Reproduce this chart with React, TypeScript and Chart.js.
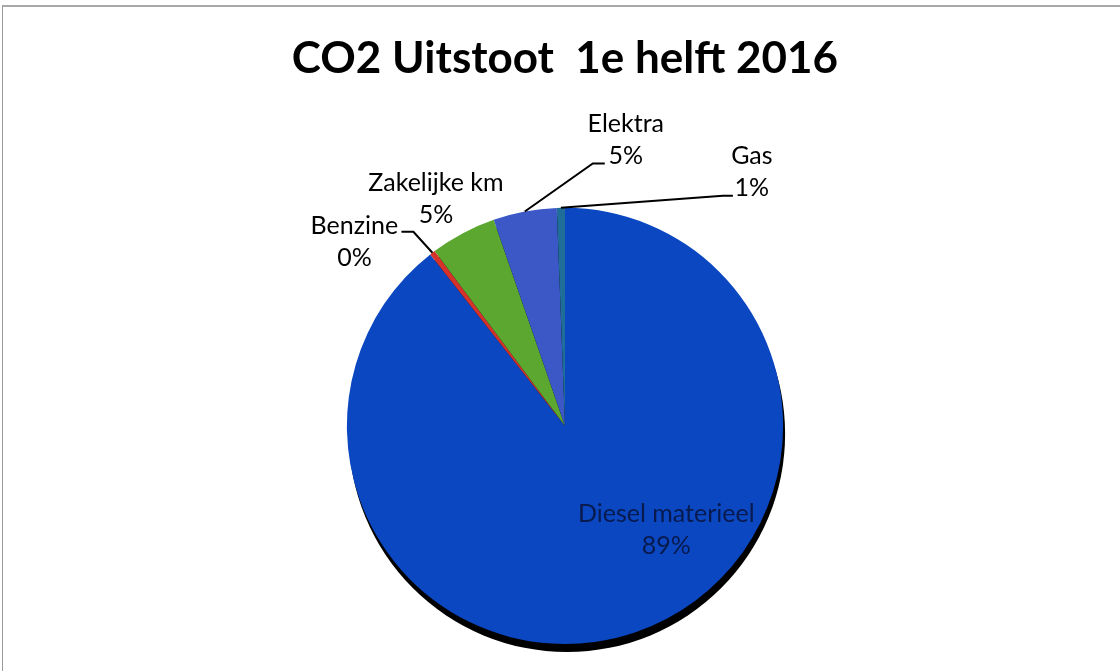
import React, { useEffect, useRef } from "react";
import { Chart, registerables } from "chart.js";

Chart.register(...registerables);

const TITLE = "CO2 Uitstoot  1e helft 2016";
const CATEGORIES = ["Diesel materieel", "Benzine", "Zakelijke km", "Elektra", "Gas"];
const VALUES = [89.4, 0.4, 4.9, 4.7, 0.6];
const COLORS = ["#0b47c0", "#d6322c", "#5ba72f", "#3c58c6", "#1f6e99"];

// label placement relative to the slice's rim anchor (mid-angle on the outer radius)
const LABEL_LAYOUT = [
  { dx: 30, dy: -118, color: "#081a4e", leader: null },
  { dx: -78, dy: -27, color: "#000", leader: [[-19, -21], [-31, -21]] },
  { dx: -27, dy: -50, color: "#000", leader: null },
  { dx: 101, dy: -88, color: "#000", leader: [[68, -48], [80, -48]] },
  { dx: 191, dy: -52, color: "#000", leader: [[162, -12], [172, -12]] },
];

const FONT = "Lato, 'Open Sans', sans-serif";

const shadowPlugin = {
  id: "pieShadow",
  beforeDatasetsDraw(chart: any) {
    const arc = chart.getDatasetMeta(0).data[0];
    if (!arc) return;
    const { x, y, outerRadius } = arc.getProps(["x", "y", "outerRadius"], true);
    const ctx = chart.ctx;
    ctx.save();
    ctx.fillStyle = "#000";
    ctx.beginPath();
    ctx.arc(x + 2, y + 8, outerRadius, 0, Math.PI * 2);
    ctx.fill();
    ctx.restore();
  },
};

const labelPlugin = {
  id: "sliceLabels",
  afterDatasetsDraw(chart: any) {
    const ctx = chart.ctx;
    const meta = chart.getDatasetMeta(0);
    const vals = chart.data.datasets[0].data as number[];
    const total = vals.reduce((a, b) => a + b, 0);
    meta.data.forEach((arc: any, i: number) => {
      const { x, y, startAngle, endAngle, outerRadius } = arc.getProps(
        ["x", "y", "startAngle", "endAngle", "outerRadius"],
        true
      );
      const mid = (startAngle + endAngle) / 2;
      const ax = x + Math.cos(mid) * outerRadius;
      const ay = y + Math.sin(mid) * outerRadius;
      const L = LABEL_LAYOUT[i];
      ctx.save();
      if (L.leader) {
        ctx.strokeStyle = "#000";
        ctx.lineWidth = 2;
        ctx.beginPath();
        ctx.moveTo(ax, ay);
        L.leader.forEach((p) => ctx.lineTo(ax + p[0], ay + p[1]));
        ctx.stroke();
      }
      ctx.fillStyle = L.color;
      ctx.font = `25px ${FONT}`;
      ctx.textAlign = "center";
      ctx.textBaseline = "middle";
      const pct = Math.round((vals[i] / total) * 100) + "%";
      ctx.fillText(chart.data.labels[i], ax + L.dx, ay + L.dy);
      ctx.fillText(pct, ax + L.dx, ay + L.dy + 32);
      ctx.restore();
    });
  },
};

export default function App() {
  const ref = useRef<HTMLCanvasElement>(null);
  useEffect(() => {
    document.body.style.margin = "0";
    const chart = new Chart(ref.current!, {
      type: "pie",
      data: {
        labels: CATEGORIES,
        datasets: [
          {
            data: VALUES,
            backgroundColor: COLORS,
            borderWidth: 0,
          },
        ],
      },
      options: {
        responsive: false,
        maintainAspectRatio: false,
        animation: false,
        layout: { padding: { left: 10, right: 0, top: 0, bottom: 27 } },
        plugins: {
          legend: { display: false },
          tooltip: { enabled: false },
          title: {
            display: true,
            text: TITLE,
            color: "#000",
            font: { family: FONT, size: 44, weight: "bold" },
            padding: { top: 32, bottom: 123 },
          },
        },
      },
      plugins: [shadowPlugin, labelPlugin],
    });
    return () => chart.destroy();
  }, []);
  return (
    <div style={{ position: "relative", width: 1120, height: 671, background: "#fff" }}>
      <div
        style={{
          position: "absolute",
          left: 2,
          top: 5,
          right: 0,
          bottom: 0,
          borderTop: "2px solid #a8a8a8",
          borderLeft: "1px solid #9a9a9a",
        }}
      />
      <canvas ref={ref} width={1120} height={671} style={{ position: "absolute", left: 0, top: 0 }} />
    </div>
  );
}
